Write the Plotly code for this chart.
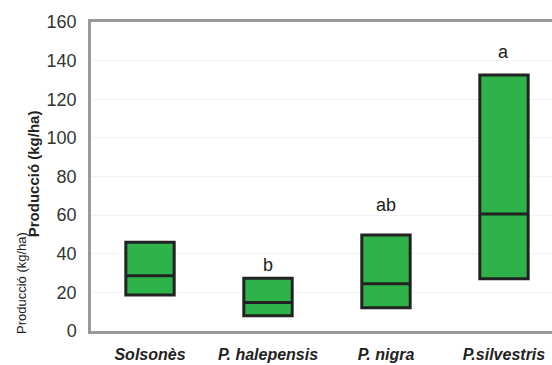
import plotly.graph_objects as go

categories = ["Solsonès", "P. halepensis", "P. nigra", "P.silvestris"]
q1 = [18.6, 7.9, 12.1, 27.1]
median = [28.6, 14.7, 24.5, 60.6]
q3 = [45.9, 27.3, 49.7, 132.6]
letters = ["", "b", "ab", "a"]
letter_y = [None, 34, 65.5, 144.5]
y_ticks = [0, 20, 40, 60, 80, 100, 120, 140, 160]

fig = go.Figure()
fig.add_trace(go.Box(
    x=categories, q1=q1, median=median, q3=q3,
    lowerfence=q1, upperfence=q3,
    fillcolor="#2eb34b", line=dict(color="#222222", width=3),
    width=0.41, whiskerwidth=0, showlegend=False, hoverinfo="skip",
))

for c, t, yv in zip(categories, letters, letter_y):
    if t:
        fig.add_annotation(x=c, y=yv, text=t, showarrow=False,
                           font=dict(size=18, color="#222222", family="Liberation Sans"))

fig.add_annotation(xref="paper", yref="paper", x=-0.152, y=0.155, text="Producció (kg/ha)",
                   textangle=-90, showarrow=False, xanchor="center", yanchor="middle",
                   font=dict(size=13, color="#222222", family="Liberation Sans"))
fig.add_annotation(xref="paper", yref="paper", x=-0.124, y=0.51, text="<b>Producció (kg/ha)</b>",
                   textangle=-90, showarrow=False, xanchor="center", yanchor="middle",
                   font=dict(size=15, color="#222222", family="Liberation Sans"))

fig.update_layout(
    width=552, height=365,
    margin=dict(l=91, r=0, t=22, b=34),
    paper_bgcolor="white", plot_bgcolor="white",
    font=dict(family="Liberation Sans", color="#333333"),
    xaxis=dict(
        type="category", categoryorder="array", categoryarray=categories,
        range=[-0.5, 3.407], showline=True, linecolor="#9a9a9a", linewidth=2.5,
        mirror=True, showgrid=False, ticks="", ticklabelstandoff=7, automargin=False,
        tickfont=dict(size=16, color="#222222", family="Liberation Sans", weight="bold", style="italic"),
    ),
    yaxis=dict(
        range=[0, 160], tickvals=y_ticks, showline=True, linecolor="#9a9a9a",
        linewidth=2.5, showgrid=True, gridcolor="#f2f2f2", gridwidth=1, zeroline=False,
        ticks="", ticklabelstandoff=8, automargin=False,
        tickfont=dict(size=18, color="#333333", family="Liberation Sans"),
    ),
)

fig.write_html(
    "out.html",
    config={"displayModeBar": False},
    post_script="document.body.style.margin='0';document.body.style.padding='0';"
                "document.documentElement.style.overflow='hidden';",
)
